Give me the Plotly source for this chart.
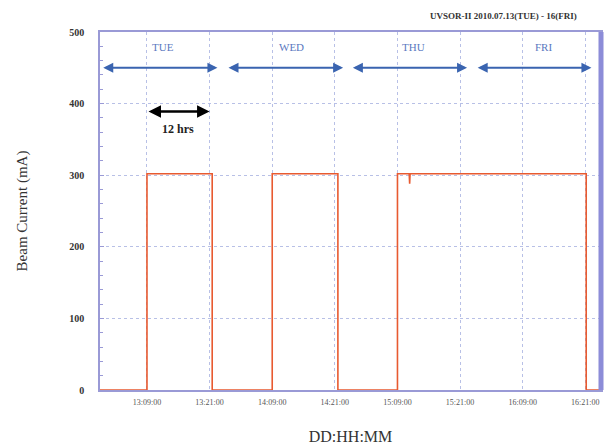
import plotly.graph_objects as go

# Beam current data (time, mA)
times = ["2010-07-13 00:00", "2010-07-13 09:00", "2010-07-13 09:00", "2010-07-13 21:30", "2010-07-13 21:30",
         "2010-07-14 09:00", "2010-07-14 09:00", "2010-07-14 21:35", "2010-07-14 21:35",
         "2010-07-15 09:00", "2010-07-15 09:00", "2010-07-15 11:15", "2010-07-15 11:20", "2010-07-15 11:25",
         "2010-07-16 21:10", "2010-07-16 21:10", "2010-07-16 23:59"]
current = [0, 0, 302, 302, 0,
           0, 302, 302, 0,
           0, 302, 302, 288, 302,
           302, 0, 0]

tick_vals = ["2010-07-13 09:00", "2010-07-13 21:00", "2010-07-14 09:00", "2010-07-14 21:00",
             "2010-07-15 09:00", "2010-07-15 21:00", "2010-07-16 09:00", "2010-07-16 21:00"]
tick_text = ["13:09:00", "13:21:00", "14:09:00", "14:21:00", "15:09:00", "15:21:00", "16:09:00", "16:21:00"]

y_ticks = [0, 100, 200, 300, 400, 500]

days = ["TUE", "WED", "THU", "FRI"]
day_label_x = ["2010-07-13 12:00", "2010-07-14 12:45", "2010-07-15 12:00", "2010-07-16 13:00"]
day_arrow_start = ["2010-07-13 00:20", "2010-07-14 00:20", "2010-07-15 00:10", "2010-07-16 00:05"]
day_arrow_end = ["2010-07-13 22:30", "2010-07-14 22:35", "2010-07-15 22:20", "2010-07-16 22:10"]
day_arrow_y = 450
day_label_y = 479

scale_start, scale_end, scale_y = "2010-07-13 09:00", "2010-07-13 21:00", 389
scale_label = "12 hrs"

title = "UVSOR-II 2010.07.13(TUE) - 16(FRI)"

serif = "Liberation Serif"
frame = "#9a9ad6"
grid = "#b8c0e6"

fig = go.Figure()
fig.add_trace(go.Scatter(x=times, y=current, mode="lines",
                         line=dict(color="#e85a30", width=1.6), hoverinfo="skip", showlegend=False))

annotations = []
for d, lx, s, e in zip(days, day_label_x, day_arrow_start, day_arrow_end):
    annotations.append(dict(x=e, y=day_arrow_y, ax=s, ay=day_arrow_y, xref="x", yref="y",
                            axref="x", ayref="y", text="", showarrow=True,
                            arrowhead=2, startarrowhead=2, arrowside="end+start",
                            arrowsize=1.0, startarrowsize=1.0, arrowwidth=2, arrowcolor="#3a64b0"))
    annotations.append(dict(x=lx, y=day_label_y, xref="x", yref="y", text=d, showarrow=False,
                            font=dict(family=serif, size=11, color="#5a78c0")))

annotations.append(dict(x=scale_end, y=scale_y, ax=scale_start, ay=scale_y, xref="x", yref="y",
                        axref="x", ayref="y", text="", showarrow=True,
                        arrowhead=2, startarrowhead=2, arrowside="end+start",
                        arrowsize=1.0, startarrowsize=1.0, arrowwidth=2.5, arrowcolor="#000000"))
annotations.append(dict(x="2010-07-13 15:00", y=365, xref="x", yref="y", text="<b>" + scale_label + "</b>",
                        showarrow=False, font=dict(family=serif, size=12, color="#222222")))
annotations.append(dict(x=1.0, y=1.0, xref="paper", yref="paper", xanchor="right", yanchor="bottom",
                        yshift=9, xshift=-22, text="<b>" + title + "</b>", showarrow=False,
                        font=dict(family=serif, size=9, color="#333333")))

# page body has an 8px margin, so the figure is sized to fill the rest of the window
fig.update_layout(
    width=605, height=437,
    margin=dict(l=92, r=12, t=24, b=55),
    paper_bgcolor="white", plot_bgcolor="white",
    font=dict(family=serif),
    annotations=annotations,
    xaxis=dict(range=["2010-07-13 00:00", "2010-07-17 00:00"], tickvals=tick_vals, ticktext=tick_text,
               showgrid=True, gridcolor=grid, griddash="dot", gridwidth=1,
               showline=True, linecolor=frame, linewidth=1.5, mirror=True,
               ticks="", ticklabelstandoff=4,
               tickfont=dict(family=serif, size=8, color="#555555"),
               title=dict(text="DD:HH:MM", font=dict(family=serif, size=16, color="#333333"), standoff=24),
               zeroline=False, automargin=False),
    yaxis=dict(range=[0, 500], tickvals=y_ticks, showgrid=True, gridcolor=grid, griddash="dot",
               showline=True, linecolor=frame, linewidth=1.5, mirror=True,
               ticks="inside", ticklen=4, tickcolor=frame, ticklabelstandoff=12,
               minor=dict(ticks="inside", ticklen=3, dtick=20, tickcolor=frame, showgrid=False),
               tickfont=dict(family=serif, size=10, color="#333333", weight="bold"),
               title=dict(text="Beam Current (mA)", font=dict(family=serif, size=15, color="#333333"), standoff=38),
               zeroline=False, automargin=False),
)

# thick right frame edge
fig.add_shape(type="line", xref="paper", yref="paper", x0=1, x1=1, y0=0, y1=1,
              line=dict(color="#8c8cd8", width=5))

fig.write_html("out.html")
